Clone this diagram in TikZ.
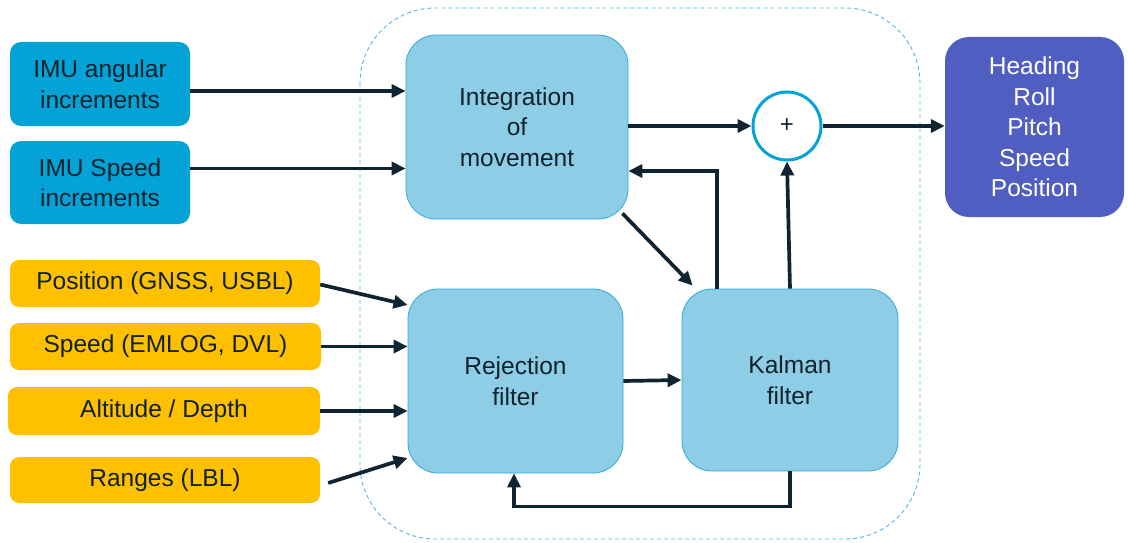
\documentclass[tikz,border=0pt]{standalone}
\usepackage{fontspec}
\setmainfont{Liberation Sans}
\usetikzlibrary{arrows.meta}
\definecolor{imublue}{HTML}{03A3D8}
\definecolor{sensoryellow}{HTML}{FFC000}
\definecolor{blockfill}{HTML}{8DCDE6}
\definecolor{blockedge}{HTML}{2FAADA}
\definecolor{outblue}{HTML}{4F5EC0}
\definecolor{arrowdark}{HTML}{0E2431}
\definecolor{textdark}{HTML}{10222C}
\definecolor{frameblue}{HTML}{4DB7E2}
\tikzset{
  txt/.style={font=\fontsize{24.5}{30.5}\selectfont, align=center, text=textdark},
  imubox/.style={txt, rectangle, rounded corners=11pt, fill=imublue, inner sep=0pt},
  sensorbox/.style={txt, rectangle, rounded corners=9pt, fill=sensoryellow, inner sep=0pt},
  block/.style={txt, rectangle, rounded corners=30pt, fill=blockfill, draw=blockedge, line width=0.8pt, inner sep=0pt},
  outbox/.style={txt, rectangle, rounded corners=24pt, fill=outblue, text=white, inner sep=0pt},
  sumnode/.style={circle, draw=imublue, line width=3pt, fill=white, minimum size=68pt, inner sep=0pt, font=\fontsize{24}{26}\selectfont, text=textdark},
  arr/.style={draw=arrowdark, line width=3.7pt, -{Triangle[length=14pt,width=13pt]}},
  frame/.style={draw=frameblue, line width=0.9pt, dash pattern=on 4pt off 3pt, rounded corners=75pt}
}
\begin{document}
\begin{tikzpicture}[x=1pt,y=-1pt]
\useasboundingbox (0,0) rectangle (1128,543);

% estimator boundary
\draw[frame] (360,8) rectangle (920,539);

% inertial inputs
\node[imubox, minimum width=180pt, minimum height=84pt] (imuang) at (100,84) {IMU angular\\increments};
\node[imubox, minimum width=180pt, minimum height=83pt] (imuspd) at (100,182.5) {IMU Speed\\increments};

% aiding sensors
\node[sensorbox, minimum width=310pt, minimum height=47pt] (pos) at (165,283.5) {Position (GNSS, USBL)};
\node[sensorbox, minimum width=311pt, minimum height=47pt] (spd) at (165.5,346.5) {Speed (EMLOG, DVL)};
\node[sensorbox, minimum width=312pt, minimum height=48pt] (alt) at (164,411) {Altitude / Depth};
\node[sensorbox, minimum width=310pt, minimum height=46pt] (rng) at (165,480) {Ranges (LBL)};

% processing blocks
\node[block, minimum width=222pt, minimum height=184pt] (integ) at (517,127) {Integration\\of\\movement};
\node[block, minimum width=215pt, minimum height=184pt] (rej) at (515.5,381) {Rejection\\filter};
\node[block, minimum width=216pt, minimum height=182pt] (kal) at (790,380) {Kalman\\filter};
\node[sumnode] (sum) at (787,126) {+};

% outputs
\node[outbox, minimum width=179pt, minimum height=180pt] (out) at (1034.5,127) {Heading\\Roll\\Pitch\\Speed\\Position};

% connector end points
\coordinate (angout) at ([yshift=-7pt]imuang.east);
\coordinate (spdout) at ([yshift=14pt]imuspd.east);
\coordinate (posout) at ([yshift=-1pt]pos.east);
\coordinate (posin) at ([yshift=76pt]rej.west);
\coordinate (rngout) at ([xshift=8pt,yshift=-3pt]rng.east);
\coordinate (rngin) at ([yshift=-77pt]rej.west);
\coordinate (integout) at ([xshift=-6pt,yshift=6pt]integ.south east);
\coordinate (kalin) at ([xshift=11pt,yshift=3pt]kal.north west);
\coordinate (kalfb) at ([xshift=-73pt]kal.north);
\coordinate (integfb) at ([yshift=-44pt]integ.east);
\coordinate (rejin) at ([xshift=-1.5pt]rej.south);
\coordinate (sumin) at (integ.east -| sum.west);

% inertial paths
\draw[arr] (angout) -- (integ.west |- angout);
\draw[arr] (spdout) -- (integ.west |- spdout);
\draw[arr] (integ.east |- sum.west) -- (sum.west);
\draw[arr] (sum.east) -- (out.west |- sum.east);

% sensor paths into the rejection filter
\draw[arr] (posout) -- (posin);
\draw[arr] (spd.east) -- (rej.west |- spd.east);
\draw[arr] (alt.east) -- (rej.west |- alt.east);
\draw[arr] (rngout) -- (rngin);

% filter loop
\draw[arr] (rej.east) -- (kal.west);
\draw[arr] (integout) -- (kalin);
\draw[arr] (kalfb) |- (integfb);
\draw[arr] (kal.north) -- (sum.south);
\draw[arr] (kal.south) -- ++(0,35) -| (rejin);
\end{tikzpicture}
\end{document}
